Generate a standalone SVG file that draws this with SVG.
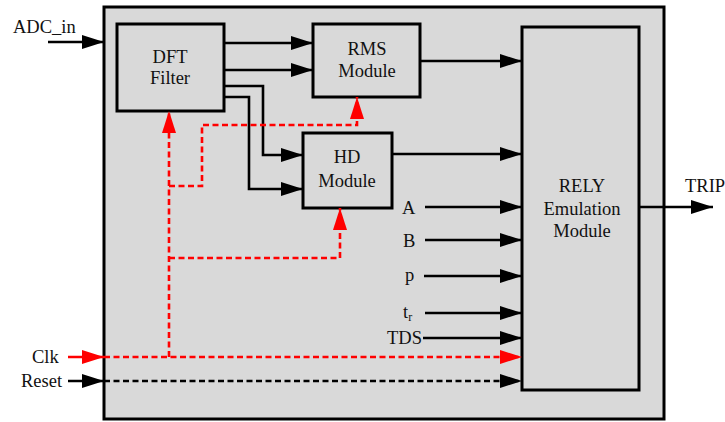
<svg xmlns="http://www.w3.org/2000/svg" width="725" height="422" viewBox="0 0 725 422">
  <style>
    .box { fill: #d9d9d9; stroke: #000; stroke-width: 3; }
    .lbl { font-family: "Liberation Serif", "Times New Roman", serif; font-size: 18.5px; fill: #111; }
    .ctr { text-anchor: middle; }
    .wire { fill: none; stroke: #000; stroke-width: 2.6; }
    .clk { fill: none; stroke: #f00; stroke-width: 2.6; stroke-dasharray: 6 3.5; }
    .rst { fill: none; stroke: #000; stroke-width: 2.6; stroke-dasharray: 6 3.5; }
    .red { fill: none; stroke: #f00; stroke-width: 2.6; }
  </style>
  <defs>
    <marker id="ah" markerUnits="userSpaceOnUse" markerWidth="22" markerHeight="14" refX="22" refY="7" orient="auto">
      <path d="M0,0 L22,7 L0,14 z" fill="#000"/>
    </marker>
    <marker id="ahr" markerUnits="userSpaceOnUse" markerWidth="22" markerHeight="14" refX="22" refY="7" orient="auto">
      <path d="M0,0 L22,7 L0,14 z" fill="#f00"/>
    </marker>
  </defs>

  <rect width="725" height="422" fill="#fff"/>

  <!-- enclosing board -->
  <g id="board">
    <rect class="box" x="104" y="7" width="560" height="412"/>
  </g>

  <g id="dft">
    <rect class="box" x="117" y="24" width="107" height="87"/>
    <text class="lbl ctr" x="170" y="63">DFT</text>
    <text class="lbl ctr" x="170" y="84">Filter</text>
  </g>

  <g id="rms">
    <rect class="box" x="313" y="24" width="107" height="73"/>
    <text class="lbl ctr" x="367" y="55">RMS</text>
    <text class="lbl ctr" x="367" y="77">Module</text>
  </g>

  <g id="hd">
    <rect class="box" x="303" y="133" width="89" height="75"/>
    <text class="lbl ctr" x="347" y="163">HD</text>
    <text class="lbl ctr" x="347" y="187">Module</text>
  </g>

  <g id="rely">
    <rect class="box" x="522" y="27" width="117" height="363"/>
    <text class="lbl ctr" x="582" y="192">RELY</text>
    <text class="lbl ctr" x="582" y="215">Emulation</text>
    <text class="lbl ctr" x="582" y="237">Module</text>
  </g>

  <!-- port labels -->
  <g id="labels">
    <text class="lbl" x="13" y="33">ADC_in</text>
    <text class="lbl" x="685" y="192">TRIP</text>
    <text class="lbl" x="32" y="363">Clk</text>
    <text class="lbl" x="21" y="387">Reset</text>
    <text class="lbl" x="402" y="214">A</text>
    <text class="lbl" x="403" y="247">B</text>
    <text class="lbl" x="405" y="281">p</text>
    <text class="lbl" x="403" y="318">t<tspan font-size="12" dy="3">r</tspan></text>
    <text class="lbl" x="387" y="344">TDS</text>
  </g>

  <g id="connectors">
    <!-- data path -->
    <line class="wire" x1="48" y1="42" x2="104" y2="42" marker-end="url(#ah)"/>
    <line class="wire" x1="224" y1="43" x2="313" y2="43" marker-end="url(#ah)"/>
    <line class="wire" x1="224" y1="70" x2="313" y2="70" marker-end="url(#ah)"/>
    <line class="wire" x1="420" y1="61" x2="522" y2="61" marker-end="url(#ah)"/>
    <polyline class="wire" points="224,86 263,86 263,155 303,155" marker-end="url(#ah)"/>
    <polyline class="wire" points="224,97 249,97 249,189 303,189" marker-end="url(#ah)"/>
    <line class="wire" x1="392" y1="154" x2="522" y2="154" marker-end="url(#ah)"/>
    <line class="wire" x1="425" y1="207" x2="522" y2="207" marker-end="url(#ah)"/>
    <line class="wire" x1="425" y1="240" x2="522" y2="240" marker-end="url(#ah)"/>
    <line class="wire" x1="424" y1="276" x2="522" y2="276" marker-end="url(#ah)"/>
    <line class="wire" x1="425" y1="313" x2="522" y2="313" marker-end="url(#ah)"/>
    <line class="wire" x1="423" y1="338" x2="522" y2="338" marker-end="url(#ah)"/>
    <line class="wire" x1="639" y1="207" x2="713" y2="207" marker-end="url(#ah)"/>

    <!-- clock distribution -->
    <line class="red" x1="68" y1="357" x2="104" y2="357" marker-end="url(#ahr)"/>
    <line class="clk" x1="104" y1="357" x2="522" y2="357" marker-end="url(#ahr)"/>
    <line class="clk" x1="169" y1="357" x2="169" y2="111" marker-end="url(#ahr)"/>
    <polyline class="clk" points="169,186 202,186 202,125 357,125 357,97" marker-end="url(#ahr)"/>
    <polyline class="clk" points="169,258 340,258 340,208" marker-end="url(#ahr)"/>

    <!-- reset -->
    <line class="wire" x1="68" y1="381" x2="104" y2="381" marker-end="url(#ah)"/>
    <line class="rst" x1="104" y1="381" x2="522" y2="381" marker-end="url(#ah)"/>
  </g>
</svg>
